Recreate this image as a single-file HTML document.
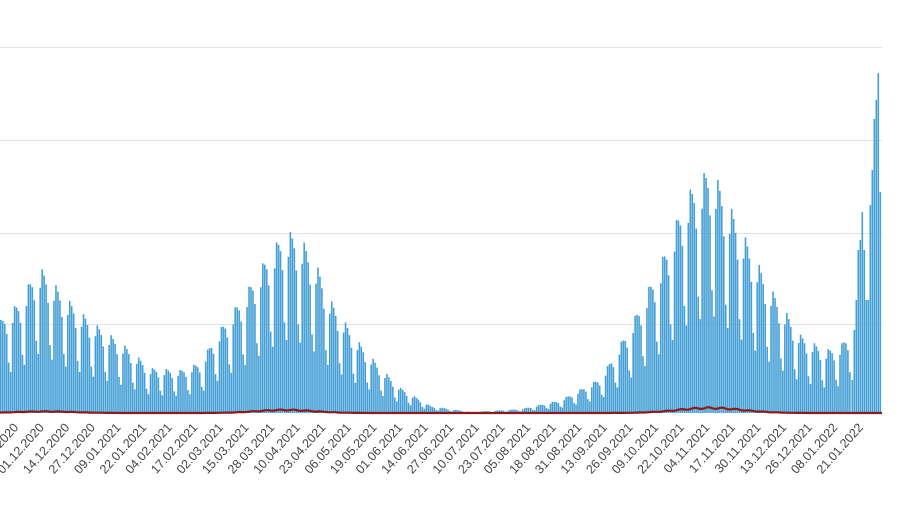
<!DOCTYPE html>
<html><head><meta charset="utf-8"><style>
body{margin:0;background:#fff;width:900px;height:505px;overflow:hidden}
svg{display:block}
</style></head><body>
<svg id="s" width="900" height="505" xmlns="http://www.w3.org/2000/svg" font-family="Liberation Sans, sans-serif">
<g stroke="#e3e3e3" stroke-width="1">
<line x1="0" x2="882" y1="47.5" y2="47.5"/>
<line x1="0" x2="882" y1="140.5" y2="140.5"/>
<line x1="0" x2="882" y1="233.5" y2="233.5"/>
<line x1="0" x2="882" y1="324.5" y2="324.5"/>
</g>
<g id="bars" fill="#449fd6"></g>
<path id="red" fill="none" stroke="#8b1a1a" stroke-width="2.2"/>
<g id="lab" font-size="12.5" fill="#444"></g>
</svg>
<script>
(function(){
var NS="http://www.w3.org/2000/svg";
var env=[[0,320],[20,300],[37,265],[50,278],[60,292],[80,312],[100,328],[120,342],[150,368],[180,370],[200,362],[215,335],[245,292],[270,250],[285,230],[300,237],[315,262],[330,300],[355,338],[380,368],[400,388],[430,406],[470,412],[520,409],[560,400],[600,378],[630,325],[660,262],[685,195],[710,165],[740,228],[770,288],[800,335],[825,350],[840,345],[850,330]];
function ftop(x){for(var i=1;i<env.length;i++){if(x<=env[i][0]){var a=env[i-1],b=env[i];return a[1]+(b[1]-a[1])*(x-a[0])/(b[0]-a[0]);}}return 330;}
var pat=[1,0.97,0.92,0.8,0.5,0.4,0.86];
var B=413,g=document.getElementById('bars'),d=1.97,i=0;
function bar(x,y){var r=document.createElementNS(NS,'rect');r.setAttribute('x',x.toFixed(2));r.setAttribute('y',y.toFixed(1));r.setAttribute('width','1.6');r.setAttribute('height',(B-y).toFixed(1));g.appendChild(r);}
for(var x=0;x<=850;x+=d,i++){var H=(B-ftop(x))*pat[i%7];bar(x,B-H);}
var tail=[[851.5,380],[853.5,330],[855.5,300],[857.5,250],[859.5,240],[861.5,212],[863.5,250],[865.5,300],[867.5,300],[869.5,205],[871.5,170],[873.5,119],[875.5,100],[877.5,73],[879.5,192]];
tail.forEach(function(t){bar(t[0],t[1]);});
var p='M0,413';
for(var x=0;x<=882;x+=2){var y=413;var b1=Math.exp(-Math.pow((x-285)/40,2))*3,b2=Math.exp(-Math.pow((x-710)/45,2))*5,b3=Math.exp(-Math.pow((x-45)/40,2))*1.5;var s=b1+b2+b3;y-=s;y-=Math.sin(x/2.2)*0.5*s/3;p+=' L'+x+','+y.toFixed(1);}
document.getElementById('red').setAttribute('d',p);
var L=["18.11.2020","01.12.2020","14.12.2020","27.12.2020","09.01.2021","22.01.2021","04.02.2021","17.02.2021","02.03.2021","15.03.2021","28.03.2021","10.04.2021","23.04.2021","06.05.2021","19.05.2021","01.06.2021","14.06.2021","27.06.2021","10.07.2021","23.07.2021","05.08.2021","18.08.2021","31.08.2021","13.09.2021","26.09.2021","09.10.2021","22.10.2021","04.11.2021","17.11.2021","30.11.2021","13.12.2021","26.12.2021","08.01.2022","21.01.2022"];
var lab=document.getElementById('lab');
for(var k=0;k<L.length;k++){var xx=19+k*25.6;var t=document.createElementNS(NS,'text');t.setAttribute('text-anchor','end');t.setAttribute('transform','translate('+xx.toFixed(1)+',428) rotate(-48)');t.textContent=L[k];lab.appendChild(t);}
})();
</script>
</body></html>
